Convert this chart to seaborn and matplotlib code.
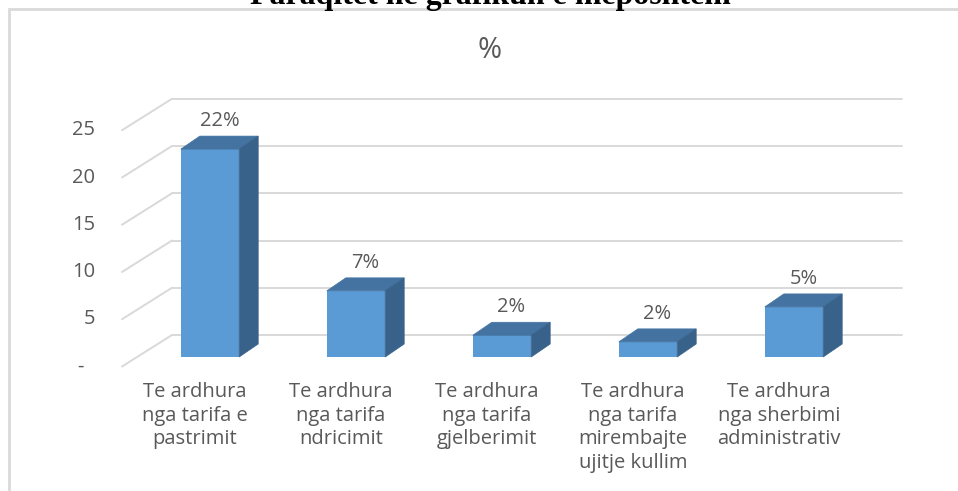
import matplotlib
matplotlib.use("Agg")
import matplotlib.pyplot as plt
import seaborn as sns
import pandas as pd
from matplotlib.patches import Polygon, Rectangle

# ---- data ----
categories = [
    "Te ardhura\nnga tarifa e\npastrimit",
    "Te ardhura\nnga tarifa\nndricimit",
    "Te ardhura\nnga tarifa\ngjelberimit",
    "Te ardhura\nnga tarifa\nmirembajte\nujitje kullim",
    "Te ardhura\nnga sherbimi\nadministrativ",
]
values = [22.0, 7.0, 2.3, 1.6, 5.3]
value_labels = ["22%", "7%", "2%", "2%", "5%"]
y_ticks = [0, 5, 10, 15, 20, 25]
y_tick_labels = ["-", "5", "10", "15", "20", "25"]
chart_title = "%"
page_title = "Paraqitet ne grafikun e meposhtem"

# ---- style ----
W, H, DPI = 958, 491, 100
FRONT = "#5B9BD5"
TOP = "#4473A1"
SIDE = "#386289"
GRID = "#D9D9D9"
TXT = "#595959"
FONT = "Open Sans"

sns.set_theme(style="white")
plt.rcParams["font.family"] = [FONT, "DejaVu Sans"]

fig = plt.figure(figsize=(W / DPI, H / DPI), dpi=DPI)
ax = fig.add_axes([0, 0, 1, 1])

df = pd.DataFrame({"cat": categories, "val": values})
sns.barplot(data=df, x="cat", y="val", color=FRONT, width=0.4,
            saturation=1, ax=ax, edgecolor=FRONT, linewidth=0, zorder=3)

# pixel -> data mapping
px_per_cat = 146.0
px_per_unit = 9.45
x0_px = 210.0          # centre of first bar
base_px_top = 357.0    # baseline of bars measured from top
ax.set_xlim((0 - x0_px) / px_per_cat, (W - x0_px) / px_per_cat)
ax.set_ylim(-(H - base_px_top) / px_per_unit, base_px_top / px_per_unit)
ax.axis("off")

dx = 19 / px_per_cat
dy = 13 / px_per_unit

# gridlines: back wall and left wall
back_x0 = (172 - x0_px) / px_per_cat
back_x1 = (902 - x0_px) / px_per_cat
front_x = (122 - x0_px) / px_per_cat
back_off = 22 / px_per_unit
front_off = -9.5 / px_per_unit
for v in y_ticks:
    ax.plot([back_x0, back_x1], [v + back_off, v + back_off], color=GRID, lw=1.4, zorder=1)
    ax.plot([front_x, back_x0], [v + front_off, v + back_off], color=GRID, lw=1.4, zorder=1)

lab_x = (95 - x0_px) / px_per_cat
dash_x = (80 - x0_px) / px_per_cat
for v, s in zip(y_ticks, y_tick_labels):
    if s == "-":
        ax.text(dash_x, v + front_off, s, ha="center", va="center", color=TXT, fontsize=14.5)
    else:
        ax.text(lab_x, v + front_off, s, ha="right", va="center", color=TXT, fontsize=14.5)

# 3D faces for bars
for p, lbl in zip(ax.patches, value_labels):
    x = p.get_x(); w = p.get_width(); h = p.get_height()
    top = Polygon([(x, h), (x + w, h), (x + w + dx, h + dy), (x + dx, h + dy)],
                  closed=True, facecolor=TOP, edgecolor=TOP, lw=0.5, zorder=4)
    side = Polygon([(x + w, 0), (x + w + dx, dy), (x + w + dx, h + dy), (x + w, h)],
                   closed=True, facecolor=SIDE, edgecolor=SIDE, lw=0.5, zorder=4)
    ax.add_patch(top)
    ax.add_patch(side)
    ax.text(x + w / 2 + dx / 2, h + dy + 15 / px_per_unit, lbl, ha="center", va="center",
            color=TXT, fontsize=14.5, zorder=5)

# category labels
cat_off = -15 / px_per_cat
cat_y = (base_px_top - 382) / px_per_unit
for i, c in enumerate(categories):
    ax.text(i + cat_off, cat_y, c, ha="center", va="top", color=TXT, fontsize=14.5,
            linespacing=1.24, multialignment="center")

# chart title
fig.text(490 / W, 1 - 50 / H, chart_title, ha="center", va="center", color=TXT, fontsize=21)

# border of chart area
fig.add_artist(Rectangle((9 / W, -0.05), 1.1, 1.05 - 9.5 / H, transform=fig.transFigure,
                         facecolor="none", edgecolor=GRID, lw=2.0))

# page title partially cut off (as in the reference)
t = fig.text(490 / W, 1 - 4 / H, page_title, ha="center", va="baseline",
             fontfamily="Liberation Serif", fontweight="bold", fontsize=20, color="black")
fig.canvas.draw()
w = t.get_window_extent().width
t.set_fontsize(20 * 480 / w)

fig.savefig("out.png", dpi=DPI)
